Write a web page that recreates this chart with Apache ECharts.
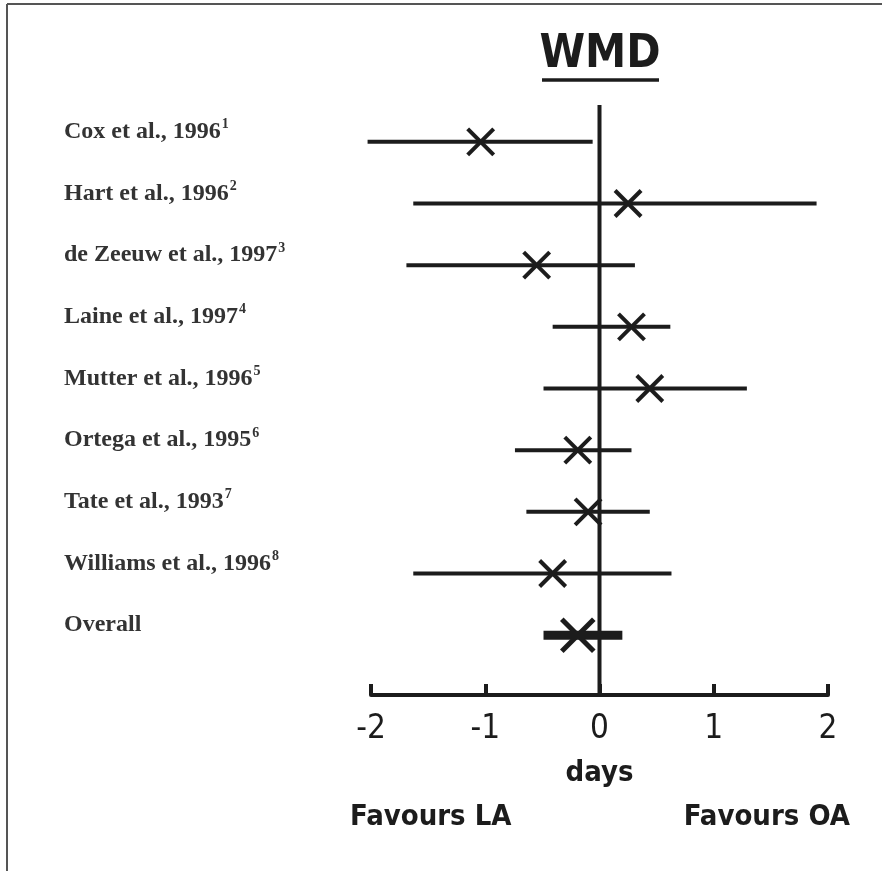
<!DOCTYPE html>
<html>
<head>
<meta charset="utf-8">
<script src="https://cdn.jsdelivr.net/npm/echarts@6/dist/echarts.min.js"></script>
<style>html,body{margin:0;padding:0;background:#fff}#c{width:882px;height:871px}</style>
</head>
<body>
<div id="c"></div>
<script>
// ---- data ----
const studies = ['Cox et al., 1996', 'Hart et al., 1996', 'de Zeeuw et al., 1997', 'Laine et al., 1997',
  'Mutter et al., 1996', 'Ortega et al., 1995', 'Tate et al., 1993', 'Williams et al., 1996', 'Overall'];
const refs = ['1', '2', '3', '4', '5', '6', '7', '8', ''];
const lower = [-2.03, -1.63, -1.69, -0.41, -0.49, -0.74, -0.64, -1.63, -0.49];
const estimate = [-1.04, 0.25, -0.55, 0.28, 0.44, -0.19, -0.10, -0.41, -0.19];
const upper = [-0.06, 1.90, 0.31, 0.62, 1.29, 0.28, 0.44, 0.63, 0.20];
const xTicks = [-2, -1, 0, 1, 2];
const axisName = 'days';
const titleText = 'WMD';
const leftNote = 'Favours LA';
const rightNote = 'Favours OA';

const INK = '#1c1c1c';
const handFont = "'DejaVu Sans Condensed', 'Liberation Sans Narrow', 'Liberation Sans', sans-serif";

const chart = echarts.init(document.getElementById('c'));
const rows = studies.map((s, i) => [i, lower[i], estimate[i], upper[i]]);

chart.setOption({
  animation: false,
  backgroundColor: '#fff',
  grid: [
    {left: 371, right: 54, top: 111, bottom: 205},
    {left: 371, right: 54, top: 105, bottom: 176}
  ],
  xAxis: [
    {gridIndex: 0, type: 'value', min: xTicks[0], max: xTicks[xTicks.length - 1], show: false},
    {gridIndex: 1, type: 'value', min: xTicks[0], max: xTicks[xTicks.length - 1], interval: 1,
      axisLine: {show: true, lineStyle: {color: INK, width: 4}},
      axisTick: {show: true, inside: true, length: 11, lineStyle: {color: INK, width: 4}},
      splitLine: {show: false},
      axisLabel: {color: INK, fontSize: 33, fontFamily: handFont, margin: 18},
      name: axisName, nameLocation: 'middle', nameGap: 64,
      nameTextStyle: {color: INK, fontSize: 29, fontWeight: 'bold', fontFamily: handFont}
    }
  ],
  yAxis: [
    {gridIndex: 0, type: 'category', inverse: true, data: studies,
      axisLine: {show: false}, axisTick: {show: false}, splitLine: {show: false},
      axisLabel: {
        align: 'left', margin: 307, padding: [0, 0, 20, 0],
        formatter: (v, i) => '{n|' + v + '}' + (refs[i] ? '{s|' + refs[i] + '}' : ''),
        rich: {
          n: {fontFamily: "'Liberation Serif', serif", fontSize: 24, fontWeight: 'bold', color: '#333', lineHeight: 28},
          s: {fontFamily: "'Liberation Serif', serif", fontSize: 14, fontWeight: 'bold', color: '#333', verticalAlign: 'top', lineHeight: 28, padding: [0, 0, 10, 1]}
        }
      }
    },
    {gridIndex: 1, type: 'value', min: 0, max: 1, show: false}
  ],
  series: [
    {
      type: 'line', xAxisIndex: 1, yAxisIndex: 1, data: [[0, 0], [0, 1]],
      symbol: 'none', silent: true, lineStyle: {color: INK, width: 4}, z: 1
    },
    {
      type: 'custom', xAxisIndex: 0, yAxisIndex: 0, data: rows,
      encode: {y: 0, x: [1, 2, 3]}, z: 3, clip: false,
      renderItem: function (params, api) {
        const idx = api.value(0);
        const isOverall = idx === studies.length - 1;
        const a = api.coord([api.value(1), idx]);
        const m = api.coord([api.value(2), idx]);
        const b = api.coord([api.value(3), idx]);
        const h = isOverall ? 16 : 13;
        const lw = isOverall ? 5 : 4;
        return {
          type: 'group',
          children: [
            {type: 'line', shape: {x1: a[0], y1: a[1], x2: b[0], y2: b[1]},
              style: {stroke: INK, lineWidth: isOverall ? 9 : 4}},
            {type: 'line', shape: {x1: m[0] - h, y1: m[1] - h, x2: m[0] + h, y2: m[1] + h},
              style: {stroke: INK, lineWidth: lw}},
            {type: 'line', shape: {x1: m[0] - h, y1: m[1] + h, x2: m[0] + h, y2: m[1] - h},
              style: {stroke: INK, lineWidth: lw}}
          ]
        };
      }
    }
  ],
  graphic: [
    {type: 'line', shape: {x1: 7, y1: 4, x2: 882, y2: 4}, style: {stroke: '#555', lineWidth: 2}},
    {type: 'line', shape: {x1: 7, y1: 4, x2: 7, y2: 871}, style: {stroke: '#555', lineWidth: 2}},
    {type: 'text', x: 600, y: 55, style: {text: titleText, fill: INK, fontSize: 46, fontWeight: 'bold', fontFamily: handFont,
      textAlign: 'center', textVerticalAlign: 'middle'}},
    {type: 'line', shape: {x1: 542, y1: 80, x2: 659, y2: 80}, style: {stroke: INK, lineWidth: 3.5}},
    {type: 'text', x: 350, y: 817, style: {text: leftNote, fill: INK, fontSize: 29, fontWeight: 'bold',
      fontFamily: handFont, textAlign: 'left', textVerticalAlign: 'middle'}},
    {type: 'text', x: 850, y: 817, style: {text: rightNote, fill: INK, fontSize: 29, fontWeight: 'bold',
      fontFamily: handFont, textAlign: 'right', textVerticalAlign: 'middle'}}
  ]
});
</script>
</body>
</html>
